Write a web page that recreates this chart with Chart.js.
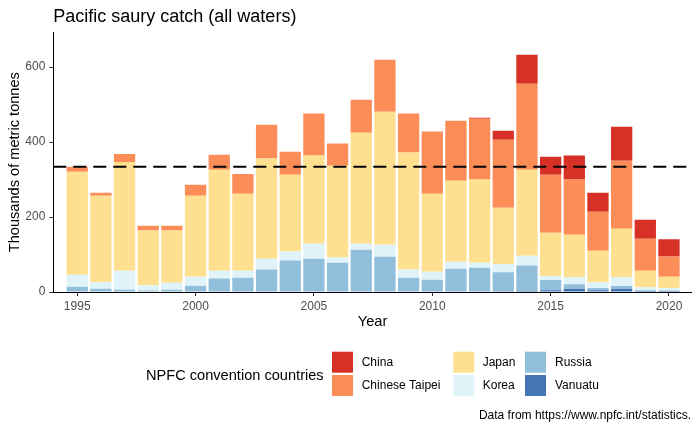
<!DOCTYPE html>
<html>
<head>
<meta charset="utf-8">
<script src="https://cdn.jsdelivr.net/npm/chart.js@4/dist/chart.umd.min.js"></script>
<style>
  html, body { margin: 0; padding: 0; background: #fff; }
  #wrap { width: 700px; height: 432px; position: relative; }
</style>
</head>
<body>
<div id="wrap"><canvas id="saury" width="700" height="432"></canvas></div>
<script>
// catch per year, thousands of metric tonnes
const years = [1995, 1996, 1997, 1998, 1999, 2000, 2001, 2002, 2003, 2004, 2005, 2006, 2007,
               2008, 2009, 2010, 2011, 2012, 2013, 2014, 2015, 2016, 2017, 2018, 2019, 2020];
const vanuatu = [0, 0, 0, 0, 0, 0, 0, 0, 0, 0, 0, 0, 0, 0, 0, 0, 0, 0, 2, 3, 5, 8, 5, 8, 3, 3];
const russia = [14, 9, 6, 4, 6, 17, 36, 38, 60, 84, 89, 78, 113, 94, 38, 33, 62, 65, 51, 68, 27, 13, 6, 8, 2, 1];
const korea = [32, 18, 51, 14, 19, 24, 21, 19, 29, 24, 40, 14, 16, 32, 22, 21, 19, 13, 22, 26, 11, 19, 16, 24, 8, 7];
const japan = [275, 230, 290, 146, 139, 216, 269, 205, 267, 205, 235, 245, 296, 355, 312, 208, 216, 222, 150, 229, 115, 113, 83, 129, 44, 30];
const taipei = [13, 8, 21, 13, 13, 29, 40, 53, 90, 61, 112, 59, 88, 139, 104, 166, 160, 162, 181, 230, 155, 147, 104, 181, 85, 54];
const china = [0, 0, 0, 0, 0, 0, 0, 0, 0, 0, 0, 0, 0, 0, 0, 0, 0, 3, 24, 77, 48, 64, 51, 91, 51, 46];
const refLine = 334;
const xTicks = [1995, 2000, 2005, 2010, 2015, 2020];
const yTicks = [0, 200, 400, 600];
const xMin = 1993.99, xMax = 2020.96, yMax = 693;

const FONT = '"Liberation Sans", Arial, Helvetica, sans-serif';

// bottom of the stack first
const series = [
  { label: 'Vanuatu', values: vanuatu, color: '#4575B4' },
  { label: 'Russia', values: russia, color: '#91BFDB' },
  { label: 'Korea', values: korea, color: '#E0F3F8' },
  { label: 'Japan', values: japan, color: '#FEE090' },
  { label: 'Chinese Taipei', values: taipei, color: '#FC8D59' },
  { label: 'China', values: china, color: '#D73027' }
];

const barSets = series.map(s => ({
  type: 'bar',
  label: s.label,
  data: years.map((yr, i) => ({ x: yr, y: s.values[i] })),
  backgroundColor: s.color,
  borderWidth: 0,
  barPercentage: 0.9,
  categoryPercentage: 1.0,
  stack: 'catch',
  order: 1
}));

const lineSet = {
  type: 'line',
  label: 'mean',
  data: [{ x: xMin, y: refLine }, { x: xMax, y: refLine }],
  borderColor: '#000',
  borderWidth: 2,
  borderDash: [13, 7],
  pointRadius: 0,
  stack: 'ref',
  order: 0
};

// ggplot style texts + legend
const decorations = {
  id: 'decorations',
  afterDraw(chart) {
    const ctx = chart.ctx;
    const area = chart.chartArea;
    ctx.save();
    ctx.fillStyle = '#000';

    ctx.font = '18px ' + FONT;
    ctx.textAlign = 'left';
    ctx.textBaseline = 'alphabetic';
    ctx.fillText('Pacific saury catch (all waters)', area.left, 22);

    ctx.font = '14.6px ' + FONT;
    ctx.textAlign = 'center';
    ctx.textBaseline = 'middle';
    ctx.fillText('Year', (area.left + area.right) / 2, 322);

    ctx.save();
    ctx.translate(15, (area.top + area.bottom) / 2);
    ctx.rotate(-Math.PI / 2);
    ctx.fillText('Thousands of metric tonnes', 0, 0);
    ctx.restore();

    // legend
    ctx.textAlign = 'left';
    ctx.fillText('NPFC convention countries', 146, 376);
    const order = ['China', 'Chinese Taipei', 'Japan', 'Korea', 'Russia', 'Vanuatu'];
    const keyX = [332, 453.3, 525];
    const textX = [361.7, 482.7, 555];
    const keyY = [351.7, 375];
    ctx.font = '12px ' + FONT;
    order.forEach((name, i) => {
      const col = Math.floor(i / 2), row = i % 2;
      const ds = chart.data.datasets.find(d => d.label === name);
      ctx.fillStyle = ds.backgroundColor;
      ctx.fillRect(keyX[col], keyY[row], 21, 21);
      ctx.fillStyle = '#000';
      ctx.fillText(name, textX[col], keyY[row] + 11);
    });

    ctx.font = '12px ' + FONT;
    ctx.textAlign = 'right';
    ctx.fillText('Data from https://www.npfc.int/statistics.', 691, 416);
    ctx.restore();
  }
};

const tickFont = { family: FONT, size: 12 };

new Chart(document.getElementById('saury'), {
  data: { datasets: [...barSets, lineSet] },
  options: {
    responsive: false,
    animation: false,
    devicePixelRatio: 1,
    layout: { padding: { left: 0, top: 32.3, right: 8.3, bottom: 0 } },
    plugins: { legend: { display: false }, tooltip: { enabled: false }, title: { display: false } },
    scales: {
      x: {
        type: 'linear',
        min: xMin,
        max: xMax,
        offset: false,
        stacked: true,
        afterBuildTicks: s => { s.ticks = xTicks.map(v => ({ value: v })); },
        afterFit: s => { s.height = 140; },
        grid: { display: true, offset: false, drawOnChartArea: false, drawTicks: true, tickLength: 4, color: '#333333' },
        border: { display: true, color: '#000', width: 1 },
        ticks: { color: '#4D4D4D', font: tickFont, padding: 3, maxRotation: 0, callback: v => String(v) }
      },
      y: {
        min: 0,
        max: yMax,
        stacked: true,
        afterBuildTicks: s => { s.ticks = yTicks.map(v => ({ value: v })); },
        afterFit: s => { s.width = 53.3; },
        grid: { display: true, drawOnChartArea: false, drawTicks: true, tickLength: 4, color: '#333333' },
        border: { display: true, color: '#000', width: 1 },
        ticks: { color: '#4D4D4D', font: tickFont, padding: 4 }
      }
    }
  },
  plugins: [decorations]
});
</script>
</body>
</html>
